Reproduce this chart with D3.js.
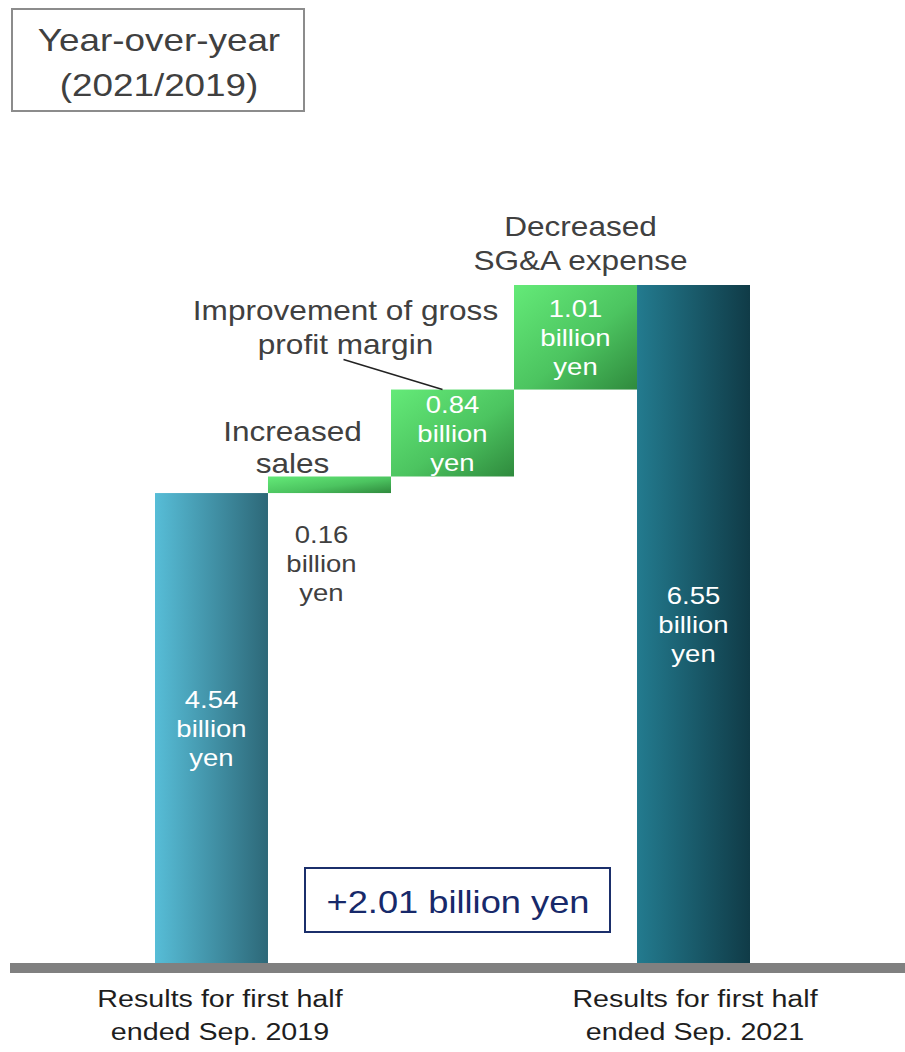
<!DOCTYPE html>
<html>
<head>
<meta charset="utf-8">
<script src="https://cdn.jsdelivr.net/npm/d3@7"></script>
<style>
  html, body { margin: 0; padding: 0; background: #fff; }
  svg { display: block; font-family: "Liberation Sans", Arial, sans-serif; }
</style>
</head>
<body>
<svg id="chart" width="905" height="1052"></svg>
<script>
// Waterfall steps: operating profit bridge 2019 -> 2021 (billion yen)
const steps = ["start", "sales", "margin", "sga", "end"];
const kinds = ["total", "delta", "delta", "delta", "total"];
const values = [4.54, 0.16, 0.84, 1.01, 6.55];
const valueText = ["4.54", "0.16", "0.84", "1.01", "6.55"];
const captions = [null, ["Increased", "sales"], ["Improvement of gross", "profit margin"], ["Decreased", "SG&A expense"], null];
const periodLabels = [["Results for first half", "ended Sep. 2019"], ["Results for first half", "ended Sep. 2021"]];
const titleLines = ["Year-over-year", "(2021/2019)"];
const totalChange = "+2.01 billion yen";

const svg = d3.select("#chart");
const baseY = 963;
const SX = 1.17; // slide text is set slightly wide

// total bars sit at the two ends; the change bars fill the gap between them
const totals = steps.filter((s, i) => kinds[i] === "total");
const deltas = steps.filter((s, i) => kinds[i] === "delta");
const xTot = d3.scaleBand().domain(totals).range([155, 750]).paddingInner(0.7656).paddingOuter(0);
const xDel = d3.scaleBand().domain(deltas)
  .range([xTot(totals[0]) + xTot.bandwidth(), xTot(totals[1])]).padding(0);
const bx = (s, k) => k === "total" ? xTot(s) : xDel(s);
const bw = k => k === "total" ? xTot.bandwidth() : xDel.bandwidth();

const y = d3.scaleLinear().domain([0, 6.55]).range([baseY, 285]);

// cumulative bottoms / tops
let run = 0;
const bars = steps.map((s, i) => {
  let lo, hi;
  if (kinds[i] === "total") { lo = 0; hi = values[i]; run = values[i]; }
  else { lo = run; hi = run + values[i]; run = hi; }
  const x0 = bx(s, kinds[i]), w = bw(kinds[i]);
  return { step: s, kind: kinds[i], lo, hi, i, x0, w, cx: x0 + w / 2 };
});

// text helper: centred, widened horizontally
function label(g, x, yy, str, size, color) {
  return g.append("text")
    .attr("transform", `translate(${x},${yy}) scale(${SX},1)`)
    .attr("text-anchor", "middle").attr("font-size", size).attr("fill", color)
    .text(str);
}

// gradients
const defs = svg.append("defs");
const g1 = defs.append("linearGradient").attr("id", "gStart").attr("x1", 0).attr("x2", 1).attr("y1", 0).attr("y2", 0);
g1.append("stop").attr("offset", 0).attr("stop-color", "#57bdd7");
g1.append("stop").attr("offset", 1).attr("stop-color", "#2d6878");
const g2 = defs.append("linearGradient").attr("id", "gEnd").attr("x1", 0).attr("x2", 1).attr("y1", 0).attr("y2", 0);
g2.append("stop").attr("offset", 0).attr("stop-color", "#237b8f");
g2.append("stop").attr("offset", 1).attr("stop-color", "#103b47");
const g3 = defs.append("linearGradient").attr("id", "gDelta").attr("x1", 0).attr("x2", 1).attr("y1", 0).attr("y2", 1);
g3.append("stop").attr("offset", 0).attr("stop-color", "#64ea78");
g3.append("stop").attr("offset", 0.55).attr("stop-color", "#4cc460");
g3.append("stop").attr("offset", 1).attr("stop-color", "#2f8a3d");

const fillFor = d => d.kind === "delta" ? "url(#gDelta)" : (d.i === 0 ? "url(#gStart)" : "url(#gEnd)");

svg.append("g").selectAll("rect")
  .data(bars).join("rect")
  .attr("x", d => d.x0)
  .attr("width", d => d.w)
  .attr("y", d => y(d.hi))
  .attr("height", d => y(d.lo) - y(d.hi))
  .attr("fill", fillFor);

// baseline
svg.append("rect").attr("x", 10).attr("y", baseY).attr("width", 895).attr("height", 10).attr("fill", "#808080");

// value labels
const lineH = 29;
const vg = svg.append("g");
bars.forEach(d => {
  const lines = [valueText[d.i], "billion", "yen"];
  const h = y(d.lo) - y(d.hi);
  let first, color, cx = d.cx;
  if (h < 40) {
    first = y(d.lo) + 50; color = "#404040"; cx -= 8;
  } else {
    first = (y(d.lo) + y(d.hi)) / 2 - lineH + 9; color = "#ffffff";
  }
  lines.forEach((t, k) => label(vg, cx, first + k * lineH, t, 23.5, color));
});

// step captions
const cg = svg.append("g");
bars.forEach(d => {
  const cap = captions[d.i];
  if (!cap) return;
  let cx = d.cx, bottom = y(d.hi) - 15;
  if (d.step === "sales") { cx -= 37; bottom = y(d.hi) - 3; }
  if (d.step === "margin") { cx -= 107; bottom = y(d.hi) - 36; }
  if (d.step === "sga") { cx += 5; }
  const gap = d.step === "sales" ? 32 : 34;
  cap.forEach((t, k) => label(cg, cx, bottom - (cap.length - 1 - k) * gap, t, 27, "#404040"));
  if (d.step === "margin") {
    cg.append("line")
      .attr("x1", cx - 2).attr("y1", y(d.hi) - 30)
      .attr("x2", d.cx - 10).attr("y2", y(d.hi))
      .attr("stroke", "#222").attr("stroke-width", 1.5);
  }
});

// title box
svg.append("rect").attr("x", 12).attr("y", 9).attr("width", 292).attr("height", 102)
  .attr("fill", "#fff").attr("stroke", "#8c8c8c").attr("stroke-width", 2);
const tg = svg.append("g");
titleLines.forEach((t, k) => label(tg, 159, 51 + k * 45, t, 31.5, "#404040"));

// total change box
svg.append("rect").attr("x", 305).attr("y", 868).attr("width", 305).attr("height", 64)
  .attr("fill", "#fff").attr("stroke", "#1b2f6b").attr("stroke-width", 2);
label(svg, 458, 913, totalChange, 31, "#17296a");

// period labels under the total bars
const pg = svg.append("g");
[bars[0], bars[4]].forEach((d, j) => {
  const cx = d.cx + (j === 0 ? 8.5 : 1.5);
  periodLabels[j].forEach((t, k) => label(pg, cx, 1007 + k * 33, t, 24.5, "#1e1e1e"));
});
</script>
</body>
</html>
